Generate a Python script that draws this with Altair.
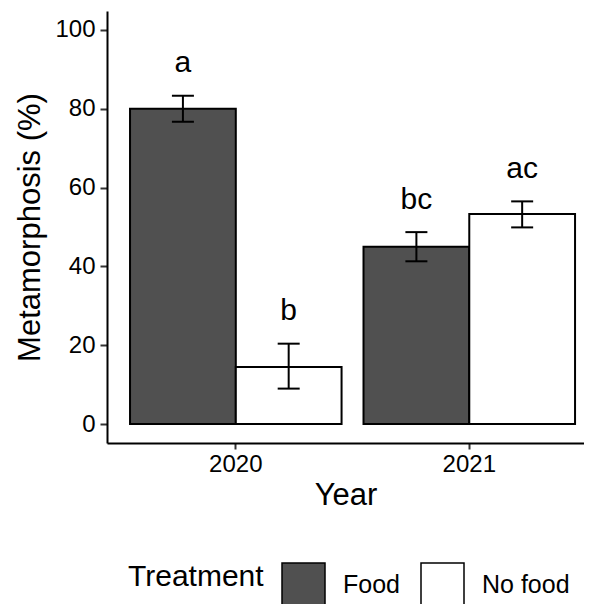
import altair as alt
import pandas as pd

years = ["2020", "2020", "2021", "2021"]
treatments = ["Food", "No food", "Food", "No food"]
means = [80.0, 14.5, 45.0, 53.3]
lower = [76.7, 9.0, 41.3, 49.9]
upper = [83.3, 20.4, 48.7, 56.5]
letters = ["a", "b", "bc", "ac"]

df = pd.DataFrame({
    "Year": years,
    "Treatment": treatments,
    "mean": means,
    "lower": lower,
    "upper": upper,
    "letter": letters,
})

FONT = "Liberation Sans"

xscale = alt.Scale(paddingInner=0.094, paddingOuter=0.0685, align=0.72)
xenc = alt.X("Year:N", scale=xscale, axis=alt.Axis(
    title="Year", labelAngle=0, labelFontSize=24, titleFontSize=31,
    tickSize=6, tickWidth=2, domainWidth=2, labelPadding=3, titlePadding=4,
    domainColor="black", tickColor="#333333", labelColor="black", titleColor="black",
    titleFontWeight="normal"))
xoff = alt.XOffset("Treatment:N", scale=alt.Scale(paddingInner=0, paddingOuter=0,
                                                  domain=["Food", "No food"]))
yscale = alt.Scale(domain=[-4.8, 104.8], nice=False, zero=False)

bars = alt.Chart(df).mark_bar(stroke="black", strokeWidth=2).encode(
    x=xenc,
    xOffset=xoff,
    y=alt.Y("mean:Q", scale=yscale, axis=alt.Axis(
        title="Metamorphosis (%)", values=[0, 20, 40, 60, 80, 100],
        labelFontSize=24, titleFontSize=31, tickSize=7, tickWidth=2,
        domainWidth=2, labelPadding=5, titlePadding=8, grid=False,
        domainColor="black", tickColor="#333333", labelColor="black",
        titleColor="black", titleFontWeight="normal")),
    y2=alt.datum(0),
    fill=alt.Fill("Treatment:N", scale=alt.Scale(domain=["Food", "No food"],
                                                 range=["#505050", "#ffffff"]),
                  legend=alt.Legend(
                      title="Treatment", orient="none", direction="horizontal",
                      legendX=21, legendY=551, titleOrient="left",
                      titleFontSize=30, titleFontWeight="normal", titleColor="black",
                      titlePadding=17, titleBaseline="alphabetic", titleAnchor="middle",
                      labelFontSize=25, labelColor="black", labelOffset=17,
                      columnPadding=18, symbolType="square", symbolSize=1849,
                      symbolStrokeColor="black", symbolStrokeWidth=1.5,
                      symbolOpacity=1)),
)

rules = alt.Chart(df).mark_rule(color="black", strokeWidth=2).encode(
    x=alt.X("Year:N", scale=xscale),
    xOffset=xoff,
    y=alt.Y("lower:Q", scale=yscale),
    y2="upper:Q",
)

caps_top = alt.Chart(df).mark_tick(color="black", thickness=2, size=22, opacity=1,
                                   orient="horizontal").encode(
    x=alt.X("Year:N", scale=xscale),
    xOffset=xoff,
    y=alt.Y("upper:Q", scale=yscale),
)
caps_bot = alt.Chart(df).mark_tick(color="black", thickness=2, size=22, opacity=1,
                                   orient="horizontal").encode(
    x=alt.X("Year:N", scale=xscale),
    xOffset=xoff,
    y=alt.Y("lower:Q", scale=yscale),
)

labels = alt.Chart(df).mark_text(fontSize=30, color="black", baseline="alphabetic",
                                 dy=-23.5, font=FONT).encode(
    x=alt.X("Year:N", scale=xscale),
    xOffset=xoff,
    y=alt.Y("upper:Q", scale=yscale),
    text="letter:N",
)

chart = alt.layer(bars, rules, caps_top, caps_bot, labels).properties(
    width=477, height=432,
    autosize=alt.AutoSizeParams(type="none"),
    padding={"left": 99, "top": 3, "right": 0, "bottom": 161},
).configure(font=FONT).configure_view(stroke=None)

chart.save("out.html", embed_options={"renderer": "svg", "actions": False})
